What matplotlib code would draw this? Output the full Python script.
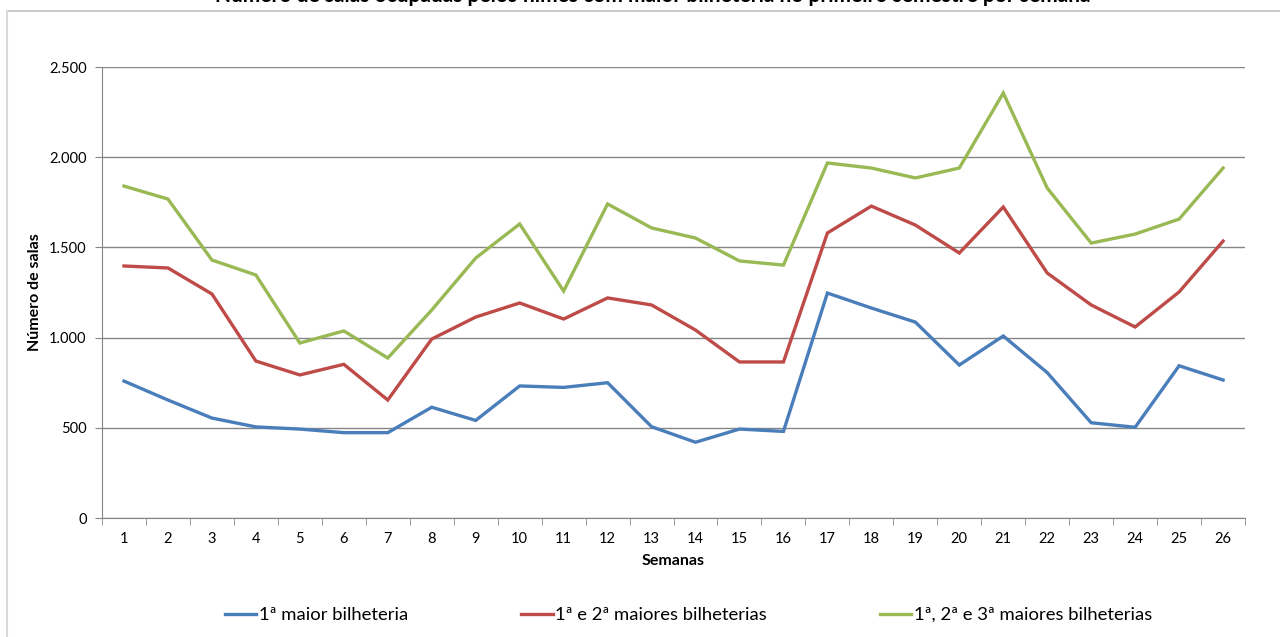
import matplotlib
matplotlib.use("Agg")
from matplotlib import pyplot as plt
from matplotlib.ticker import FuncFormatter

semanas = list(range(1, 27))

maior_1 = [759, 654, 554, 505, 493, 473, 473, 614, 541, 732, 724, 750, 506,
           420, 493, 480, 1247, 1164, 1086, 848, 1009, 806, 528, 503, 844, 765]
maiores_1_2 = [1397, 1386, 1242, 870, 793, 852, 654, 992, 1114, 1192, 1103, 1220, 1181,
               1042, 865, 865, 1580, 1729, 1624, 1469, 1724, 1358, 1181, 1059, 1253, 1535]
maiores_1_2_3 = [1840, 1768, 1430, 1347, 970, 1037, 887, 1153, 1441, 1630, 1258, 1741, 1608,
                 1552, 1425, 1402, 1968, 1940, 1885, 1940, 2356, 1829, 1524, 1574, 1657, 1940]

series_labels = ["1ª maior bilheteria", "1ª e 2ª maiores bilheterias",
                 "1ª, 2ª e 3ª maiores bilheterias"]
colors = ["#4A7EBB", "#BE4B48", "#98B954"]

title = "Número de salas ocupadas pelos filmes com maior bilheteria no primeiro semestre por semana"

plt.rcParams['font.family'] = ['Lato', 'DejaVu Sans']


def main():
    fig = plt.figure(figsize=(12.8, 6.37), dpi=100)
    ax = fig.add_axes([0.0797, 0.1868, 0.9727 - 0.0797, 0.8948 - 0.1868])

    for vals, lab, c in zip([maior_1, maiores_1_2, maiores_1_2_3], series_labels, colors):
        ax.plot(semanas, vals, color=c, lw=2.4, label=lab, solid_joinstyle='miter')

    ax.set_xlim(0.5, 26.5)
    ax.set_ylim(0, 2500)
    ax.set_yticks(range(0, 2501, 500))
    ax.yaxis.set_major_formatter(FuncFormatter(lambda v, p: f"{int(v):,}".replace(",", ".")))
    ax.set_xticks(semanas)
    ax.set_xticks([s + 0.5 for s in range(0, 27)], minor=True)
    ax.tick_params(axis='x', which='major', length=0, pad=10, labelsize=10.5)
    ax.tick_params(axis='x', which='minor', length=5, color='#868686', direction='out')
    ax.tick_params(axis='y', length=5, color='#868686', labelsize=10.5, pad=6)
    ax.grid(axis='y', color='#868686', lw=1)
    ax.set_axisbelow(True)
    for s in ['top', 'right']:
        ax.spines[s].set_visible(False)
    for s in ['left', 'bottom']:
        ax.spines[s].set_color('#868686')

    ax.set_xlabel("Semanas", fontweight='bold', fontsize=11.5, labelpad=6)
    ax.set_ylabel("Número de salas", fontweight='bold', fontsize=11.5, labelpad=5)

    fig.legend(loc='center', bbox_to_anchor=(0.538, 1 - 615 / 637), ncol=3, frameon=False,
               fontsize=13.3, columnspacing=6.1, handlelength=1.7, handletextpad=0.15)

    # title is cut off at the top in the original
    fig.text(0.51, 1 - 2 / 637, title, ha='center', va='baseline', fontsize=15, fontweight='bold')

    # outer chart border (top and left only visible)
    fig.add_artist(plt.Line2D([7 / 1280, 1], [1 - 11 / 637, 1 - 11 / 637],
                              transform=fig.transFigure, color='#BFBFBF', lw=1.2))
    fig.add_artist(plt.Line2D([7 / 1280, 7 / 1280], [0, 1 - 11 / 637],
                              transform=fig.transFigure, color='#D9D9D9', lw=1.5))

    fig.savefig("out.png", dpi=100)


if __name__ == '__main__':
    main()
